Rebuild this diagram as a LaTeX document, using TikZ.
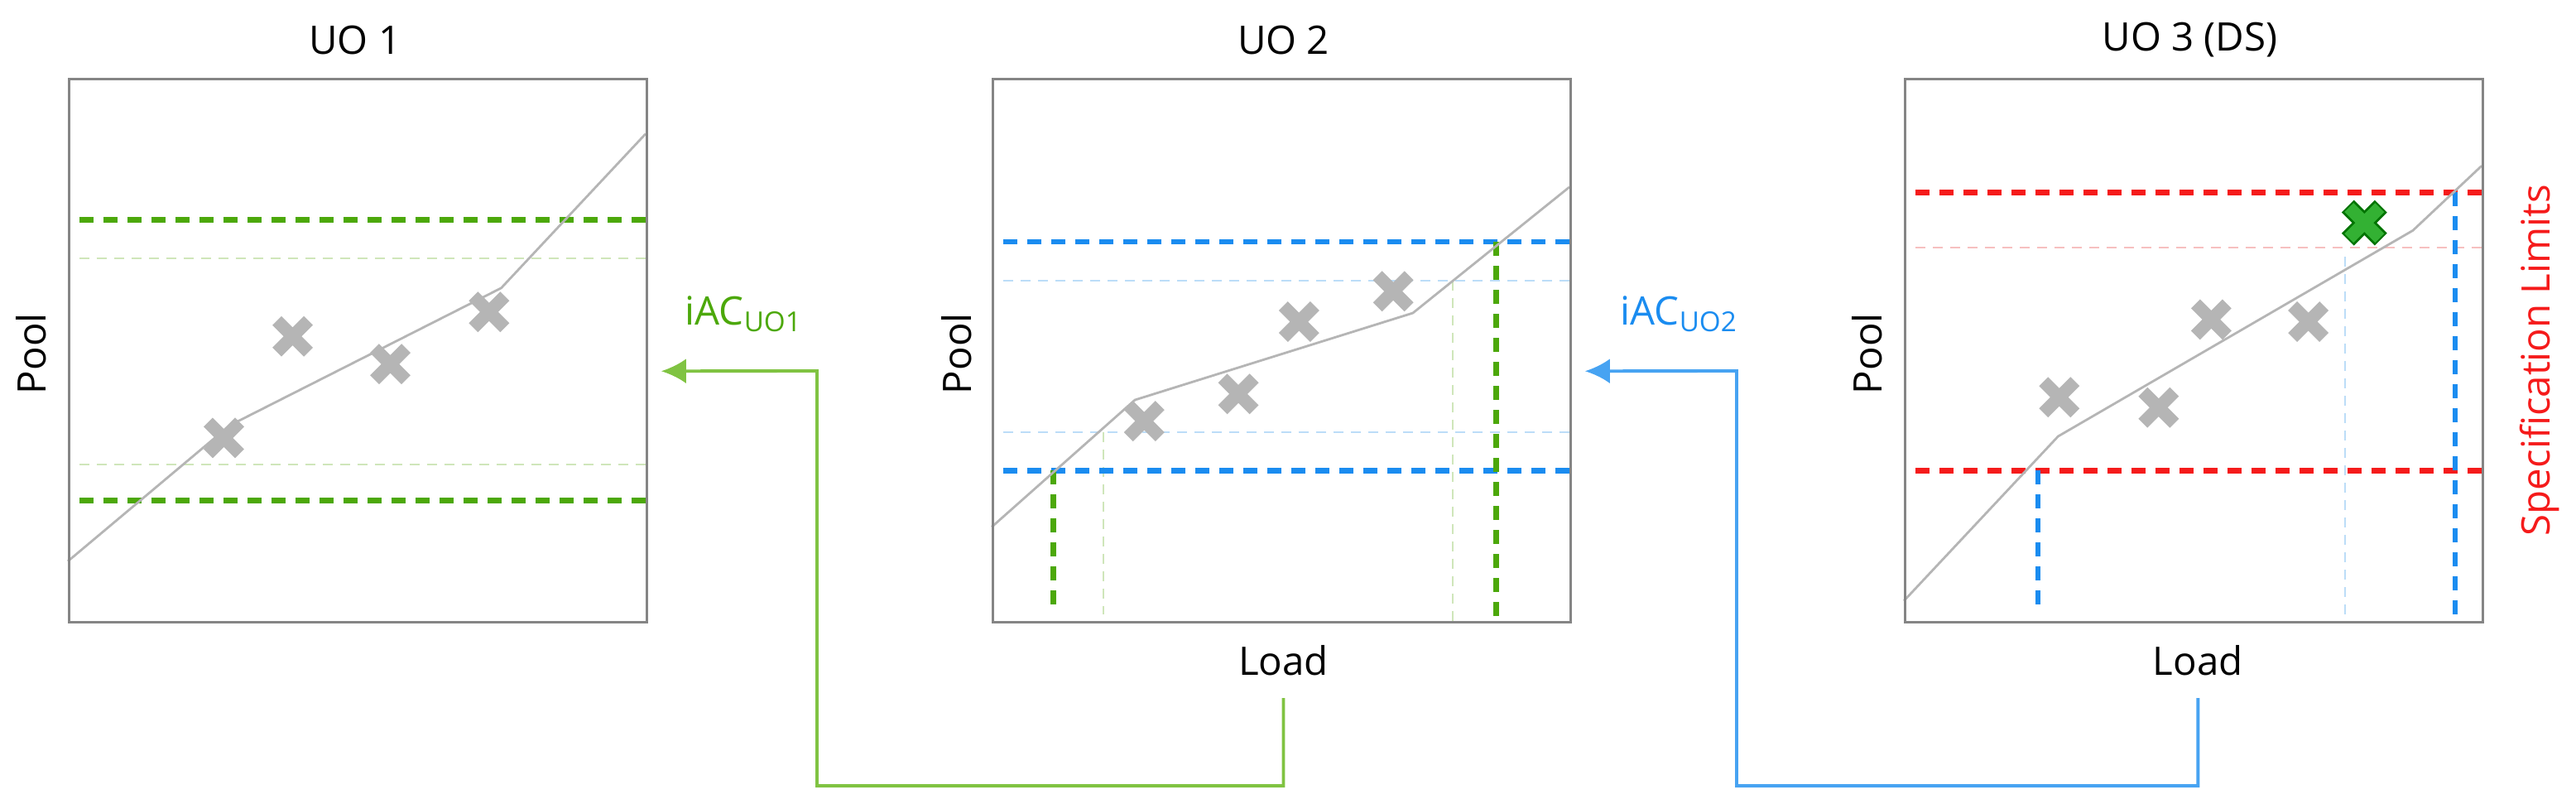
\documentclass[tikz,border=0pt]{standalone}
\usepackage{fontspec}
\setmainfont{Open Sans}
\usetikzlibrary{arrows.meta}
\begin{document}
\definecolor{gA}{HTML}{4CA80A}
\definecolor{gL}{HTML}{80C342}
\definecolor{gF}{HTML}{CFE6BA}
\definecolor{bA}{HTML}{1A8CF0}
\definecolor{bL}{HTML}{47A3F2}
\definecolor{bF}{HTML}{BCDDF8}
\definecolor{rA}{HTML}{F51B1B}
\definecolor{rF}{HTML}{F7C0C0}
\definecolor{xg}{HTML}{B5B5B5}
\definecolor{box}{HTML}{858585}
\begin{tikzpicture}[
  txt/.style={font=\fontsize{13.5}{15}\selectfont},
  frame/.style={draw=box,line width=0.9pt},
  curve/.style={draw=xg,line width=0.8pt},
  lim/.style={line width=1.9pt,dash pattern=on 0.17cm off 0.12cm},
  faint/.style={line width=0.6pt,dash pattern=on 0.12cm off 0.09cm},
  conn/.style={line width=1.1pt},
  xmark/.pic={\draw[xg,line width=4.4pt] (-0.19cm,-0.19cm)--(0.19cm,0.19cm) (-0.19cm,0.19cm)--(0.19cm,-0.19cm);},
  gmark/.pic={\draw[green!45!black,line width=6pt] (-0.2cm,-0.2cm)--(0.2cm,0.2cm) (-0.2cm,0.2cm)--(0.2cm,-0.2cm);
              \draw[green!62!black!80!white,line width=4.4pt] (-0.185cm,-0.185cm)--(0.185cm,0.185cm) (-0.185cm,0.185cm)--(0.185cm,-0.185cm);}
]
\path[use as bounding box] (0,0) rectangle (31.12,-9.64);

% ---------- Panel 1 ----------
\begin{scope}[shift={(0.82,-0.94)},x={(6.98cm,0)},y={(0,-6.56cm)}]
  \draw[gF,faint] (0.02,0.332)--(1,0.332) (0.02,0.712)--(1,0.712);
  \draw[gA,lim] (0.02,0.261)--(1,0.261) (0.02,0.778)--(1,0.778);
  \draw[curve] (0,0.89)--(0.28,0.64)--(0.75,0.387)--(1,0.103);
  \pic at (0.27,0.663) {xmark}; \pic at (0.389,0.476) {xmark};
  \pic at (0.558,0.527) {xmark}; \pic at (0.729,0.431) {xmark};
  \node[frame,minimum width=6.98cm,minimum height=6.56cm,anchor=north west,inner sep=0] (b1) at (0,0) {};
  \node[txt] (t1) at (0.497,-0.07) {UO 1};
  \node[txt,rotate=90] (p1) at (-0.064,0.508) {Pool};
  \node[txt,text=gA] (i1) at (1.17,0.435) {iAC\textsubscript{UO1}};
  \coordinate (a1) at (1.027,0.54);
\end{scope}

% ---------- Panel 2 ----------
\begin{scope}[shift={(11.98,-0.94)},x={(6.98cm,0)},y={(0,-6.56cm)}]
  \draw[bF,faint] (0.02,0.373)--(1,0.373) (0.02,0.652)--(1,0.652);
  \draw[gF,faint] (0.193,0.652)--(0.193,0.988) (0.798,0.373)--(0.798,1);
  \draw[bA,lim] (0.02,0.302)--(1,0.302) (0.02,0.723)--(1,0.723);
  \draw[gA,lim] (0.107,0.723)--(0.107,0.988) (0.873,0.302)--(0.873,1.005);
  \draw[curve] (0,0.827)--(0.248,0.593)--(0.729,0.433)--(1,0.201);
  \pic at (0.264,0.632) {xmark}; \pic at (0.427,0.582) {xmark};
  \pic at (0.532,0.449) {xmark}; \pic at (0.695,0.393) {xmark};
  \node[frame,minimum width=6.98cm,minimum height=6.56cm,anchor=north west,inner sep=0] (b2) at (0,0) {};
  \node[txt] (t2) at (0.505,-0.07) {UO 2};
  \node[txt,rotate=90] (p2) at (-0.06,0.508) {Pool};
  \node[txt] (l2) at (0.505,1.072) {Load};
  \node[txt,text=bA] (i2) at (1.19,0.435) {iAC\textsubscript{UO2}};
  \coordinate (a2) at (1.027,0.54);
  \coordinate (s2) at (0.505,1.142);
\end{scope}

% ---------- Panel 3 ----------
\begin{scope}[shift={(23.0,-0.94)},x={(6.98cm,0)},y={(0,-6.56cm)}]
  \draw[rF,faint] (0.02,0.312)--(1,0.312);
  \draw[bF,faint] (0.763,0.33)--(0.763,1);
  \draw[rA,lim] (0.02,0.211)--(1,0.211) (0.02,0.723)--(1,0.723);
  \draw[bA,lim] (0.232,0.723)--(0.232,0.988) (0.954,0.211)--(0.954,1.005);
  \draw[curve] (0,0.963)--(0.267,0.66)--(0.881,0.281)--(1,0.162);
  \pic at (0.269,0.588) {xmark}; \pic at (0.441,0.607) {xmark};
  \pic at (0.532,0.445) {xmark}; \pic at (0.7,0.449) {xmark};
  \pic at (0.797,0.267) {gmark};
  \node[frame,minimum width=6.98cm,minimum height=6.56cm,anchor=north west,inner sep=0] (b3) at (0,0) {};
  \node[txt] (t3) at (0.495,-0.07) {UO 3 (DS)};
  \node[txt,rotate=90] (p3) at (-0.063,0.508) {Pool};
  \node[txt] (l3) at (0.509,1.072) {Load};
  \node[txt,rotate=90,text=rA] (sl) at (1.1,0.52) {Specification Limits};
  \coordinate (s3) at (0.509,1.142);
\end{scope}

% ---------- Connectors ----------
\draw[gL,conn,-{Latex[length=0.3cm,width=0.3cm]}] (s2) -- ++(0,-1.06) -| (9.87,-4.48) -- (a1);
\draw[bL,conn,-{Latex[length=0.3cm,width=0.3cm]}] (s3) -- ++(0,-1.06) -| (20.98,-4.48) -- (a2);
\end{tikzpicture}
\end{document}
